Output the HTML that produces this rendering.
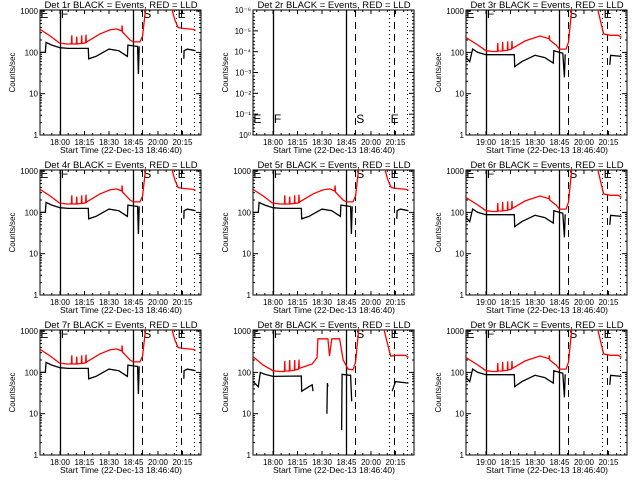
<!DOCTYPE html>
<html><head><meta charset="utf-8"><style>
body{margin:0;background:#fff}
svg{display:block;font-family:"Liberation Sans",sans-serif}
</style></head><body>
<svg id="c" width="640" height="480" viewBox="0 0 640 480"></svg>
<script>
// time in minutes from 18:00; null = gap
const redA=[[-12.2,360],[-6,250],[-0.4,170],[4,160],[7,160],[7.2,260],[7.4,160],[10,160],[10.2,240],[10.4,160],[13.1,165],[13.3,260],[13.5,165],[15.7,170],[15.9,270],[16.1,175],[17.3,190],[24.5,280],[30.6,350],[34.7,370],[37.8,330],[38,450],[38.3,310],[42.9,200],[44.9,180],[49,180],[50.6,250],[52,800],[53,1500],null,[67.5,1500],[68,1300],[70.4,600],[72.4,400],[76,380],[81.6,360],[83,340]];
const blackA=[[-12.2,100],[-9,100],[-8.5,175],[-5,150],[0,130],[5,125],[17.3,125],[17.6,70],[22,80],[30,120],[36,110],[41.3,80],[41.6,150],[47,140],[47.5,140],[48,30],[48.5,140],null,[75.8,70],[76,110],[78,120],[83,110]];
const redB=[[-12.2,230],[-6,160],[0,110],[4,105],[7,105],[7.2,170],[7.4,108],[10,108],[10.2,180],[10.4,110],[13.1,112],[13.3,185],[13.5,115],[15.7,120],[15.9,190],[16.1,125],[24,190],[33,250],[38.6,215],[38.8,260],[39,200],[43,150],[45,120],[49,120],[50.6,180],[52,700],[53,1500],null,[67,1500],[68,1300],[72,280],[76,260],[81,260],[83,230]];
const blackB=[[-12.2,75],[-10,60],[-8.2,120],[-5,100],[0,88],[17.3,88],[17.6,45],[22,60],[30,85],[36,75],[41.2,55],[41.5,110],[47,95],[48,25],[48.5,90],null,[75.8,50],[76.3,85],[83,80]];
const red8=[[-12.2,240],[-6,150],[0,110],[4,105],[7,105],[7.2,190],[7.4,108],[10,108],[10.2,200],[10.4,110],[13.1,112],[13.3,200],[13.5,115],[15.7,120],[15.9,205],[16.1,125],[24,160],[27,230],[27.5,650],[33.6,650],[34.6,250],[36,650],[40.8,650],[43,200],[46,120],[49,115],[50.6,180],[52,700],[53,1500],null,[67,1500],[67.5,1300],[72,250],[76,260],[81,260],[83,230]];
const black8=[[-12.2,60],[-9,45],[-7.8,100],[-5,90],[0,80],[17.3,82],[17.6,35],[22,45],[24,50],[24.5,35],null,[33,10],[33.3,55],[33.6,45],null,[42,4],[42.3,90],[47,85],[47.5,85],[48.2,20],null,[73,35],[75,60],[83,55]];
const markerTimes=[-0.3,45,50.5,71,74.4,82];
const markerStyles=["solid","solid","dashed","dotted","dashed","dotted"];
const xTickTimes=[0,15,30,45,60,75];
const xTickLabelsA=["18:00","18:15","18:30","18:45","20:00","20:15"];
const xTickLabelsB=["19:00","18:15","18:30","18:45","20:00","20:15"];
const yTickVals=[1,10,100,1000];
const yTickLabels=["1","10","100","1000"];
const panelIds=["1r","2r","3r","4r","5r","6r","7r","8r","9r"];

const svg=document.getElementById('c');
const NS="http://www.w3.org/2000/svg";
function mk(t,a,p){const e=document.createElementNS(NS,t);for(const k in a)e.setAttribute(k,a[k]);(p||svg).appendChild(e);return e;}
const BL=40,BR=201,BT=10,BB=135;
function xs(t){return BL+20+t*1.633;}
function ys(v){return BB-41.3*Math.log10(v);}

function panel(i,red,black,labels){
  const ox=[0,213,426][i%3],oy=[0,160,320][Math.floor(i/3)];
  const g=mk('g',{transform:`translate(${ox},${oy})`});
  
  
  const cid='clip'+i;
  const cp=mk('clipPath',{id:cid},g);mk('rect',{x:BL,y:BT,width:BR-BL,height:BB-BT},cp);
  const title=mk('text',{x:121,y:8,'font-size':9.5,'text-anchor':'middle',fill:'#000'},g);
  title.textContent=`Det ${panelIds[i]} BLACK = Events, RED = LLD`;
  
  
  const fr=mk('rect',{x:BL,y:BT,width:BR-BL,height:BB-BT,fill:'none',stroke:'#000','stroke-width':1},g);
  
  
  markerTimes.forEach((t,k)=>{
    const x=Math.round(xs(t))+0.5;
    const da=markerStyles[k]=="dashed"?"7,5":markerStyles[k]=="dotted"?"1,3":"";
    const l=mk('line',{x1:x,x2:x,y1:BT,y2:BB,stroke:'#000','stroke-width':markerStyles[k]=="solid"?1.3:1,'stroke-dasharray':da},g);
    
    
  });
  xTickTimes.forEach((t,k)=>{
    const x=xs(t);
    mk('line',{x1:x,x2:x,y1:BB,y2:BB-4,stroke:'#000'},g);
    mk('line',{x1:x,x2:x,y1:BT,y2:BT+4,stroke:'#000'},g);
    const tl=mk('text',{x:x,y:BB+10,'font-size':8,'text-anchor':'middle'},g);
    tl.textContent=labels[k];
    
    
  });
  for(let t=-10;t<=85;t+=5){const x=xs(t);mk('line',{x1:x,x2:x,y1:BB,y2:BB-2,stroke:'#000'},g);mk('line',{x1:x,x2:x,y1:BT,y2:BT+2,stroke:'#000'},g);}
  const xt=mk('text',{x:121,y:BB+18,'font-size':8.5,'text-anchor':'middle'},g);
  xt.textContent="Start Time (22-Dec-13 18:46:40)";
  
  
  const yt=mk('text',{x:0,y:0,'font-size':8,'text-anchor':'middle',transform:`translate(15,${(BT+BB)/2}) rotate(-90)`},g);
  yt.textContent="Counts/sec";
  
  
  if(!red){
    const pl=["10\u207B\u2076","10\u207B\u2075","10\u207B\u2074","10\u207B\u00B3","10\u207B\u00B2","10\u207B\u00B9","10\u2070"];
    pl.forEach((s,k)=>{const y=BT+k*(BB-BT)/6;
      mk('line',{x1:BL,x2:BL+5,y1:y,y2:y,stroke:'#000'},g);mk('line',{x1:BR,x2:BR-5,y1:y,y2:y,stroke:'#000'},g);
      for(let m=1;m<6;m++){const yy=y+m*(BB-BT)/36;if(yy<BB){mk('line',{x1:BL,x2:BL+2,y1:yy,y2:yy,stroke:'#000'},g);mk('line',{x1:BR,x2:BR-2,y1:yy,y2:yy,stroke:'#000'},g);}}
      const tl=mk('text',{x:BL-2,y:y+3,'font-size':8,'text-anchor':'end'},g);tl.textContent=s;
      
      });
    [["E",-12],["F",0.5],["S",51],["E",72]].forEach(([s,t])=>{const tx=mk('text',{x:xs(t),y:BB-12,'font-size':12},g);tx.textContent=s;
      
      });
    return;
  }
  yTickVals.forEach((v,k)=>{const y=ys(v);
    mk('line',{x1:BL,x2:BL+5,y1:y,y2:y,stroke:'#000'},g);mk('line',{x1:BR,x2:BR-5,y1:y,y2:y,stroke:'#000'},g);
    const tl=mk('text',{x:BL-2,y:y+3,'font-size':8,'text-anchor':'end'},g);tl.textContent=yTickLabels[k];
    
    
    if(v<1000)for(let m=2;m<10;m++){const yy=ys(v*m);mk('line',{x1:BL,x2:BL+2,y1:yy,y2:yy,stroke:'#000'},g);mk('line',{x1:BR,x2:BR-2,y1:yy,y2:yy,stroke:'#000'},g);}
  });
  [["E",-12],["F",0.5],["S",51],["E",72]].forEach(([s,t])=>{const tx=mk('text',{x:xs(t),y:BT+8,'font-size':12},g);tx.textContent=s;
    
    });
  function path(arr,col,name){
    let d="",pen=false;
    arr.forEach(p=>{if(!p){pen=false;return;}d+=(pen?"L":"M")+xs(p[0]).toFixed(1)+","+ys(p[1]).toFixed(1);pen=true;});
    const pe=mk('path',{d:d,fill:'none',stroke:col,'stroke-width':1.3,'clip-path':`url(#${cid})`},g);
    
    
  }
  path(red,'#f00','lld-rate-line');
  path(black,'#000','events-rate-line');
}
const cfg=[[redA,blackA,xTickLabelsA],[null,null,xTickLabelsA],[redB,blackB,xTickLabelsB],
[redA,blackA,xTickLabelsA],[redA,blackA,xTickLabelsA],[redB,blackB,xTickLabelsB],
[redA,blackA,xTickLabelsA],[red8,black8,xTickLabelsA],[redB,blackB,xTickLabelsB]];
cfg.forEach((c,i)=>panel(i,c[0],c[1],c[2]));
</script>
</body></html>
